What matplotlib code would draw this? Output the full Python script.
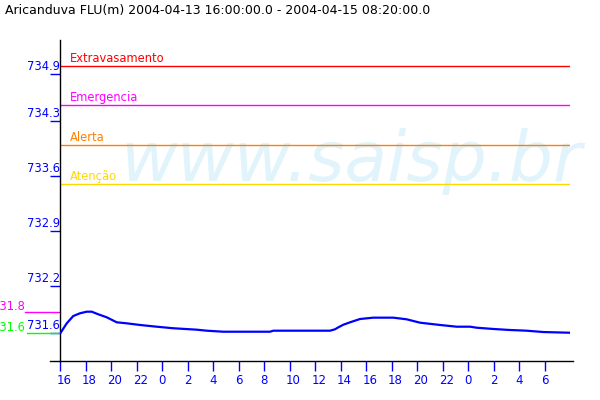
import matplotlib
matplotlib.use('Agg')
import matplotlib.pyplot as plt
from matplotlib import transforms

title = "Aricanduva FLU(m) 2004-04-13 16:00:00.0 - 2004-04-15 08:20:00.0"

# hours since 2004-04-13 16:00
hours = [0.05, 0.53, 1.04, 1.57, 2.09, 2.49, 3.0, 3.66, 4.45, 5.23, 6.27, 7.58,
         8.89, 10.72, 11.51, 12.81, 16.47, 16.73, 21.18, 21.57, 21.83, 22.22,
         22.75, 23.53, 24.57, 26.14, 27.19, 28.24, 29.80, 31.11, 32.16, 32.68,
         33.98, 35.29, 36.60, 37.91, 40.0]
level = [731.604, 731.724, 731.817, 731.852, 731.872, 731.872, 731.839, 731.801,
         731.737, 731.724, 731.703, 731.681, 731.661, 731.643, 731.630, 731.617,
         731.617, 731.630, 731.630, 731.648, 731.673, 731.706, 731.737, 731.779,
         731.796, 731.796, 731.775, 731.732, 731.703, 731.681, 731.681, 731.668,
         731.652, 731.639, 731.630, 731.613, 731.604]

x_tick_pos = list(range(0, 40, 2))
x_tick_labels = ['16', '18', '20', '22', '0', '2', '4', '6', '8', '10', '12', '14',
                 '16', '18', '20', '22', '0', '2', '4', '6']
y_tick_vals = [734.9, 734.3, 733.6, 732.9, 732.2, 731.6]
y_tick_labels = ['734.9', '734.3', '733.6', '732.9', '732.2', '731.6']

threshold_names = ['Extravasamento', 'Emergencia', 'Alerta', 'Atenção']
threshold_vals = [735.0, 734.5, 734.0, 733.5]
threshold_colors = ['#ff0000', '#ff00ff', '#ff8000', '#ffd800']

max_val, min_val = 731.87, 731.60
max_label, min_label = '731.8', '731.6'

FS = 8.3
BLUE = '#0000ff'

fig = plt.figure(figsize=(6, 4), dpi=100)
ax = fig.add_axes([60 / 600, 39 / 400, 510 / 600, 321 / 400])
ax.set_xlim(0, 40)
ax.set_ylim(731.244, 735.333)

for s in ['top', 'right', 'bottom']:
    ax.spines[s].set_visible(False)
ax.spines['left'].set_color('black')
ax.spines['left'].set_linewidth(1)
# x axis line extending slightly beyond the plot
ax.axhline(731.244, xmin=-10 / 510, xmax=513 / 510, color='black', lw=1, clip_on=False, zorder=5)

# watermark
ax.text(120 / 600, (400 - 181) / 400, 'www.saisp.br', transform=fig.transFigure,
        fontsize=50, style='italic', color='#e1f4fc', ha='left', va='baseline',
        zorder=0.5, clip_on=False)

# thresholds
px = fig.dpi_scale_trans
for name, val, col in zip(threshold_names, threshold_vals, threshold_colors):
    ax.axhline(val, color=col, lw=1, zorder=2)
    tr = transforms.blended_transform_factory(ax.transAxes, ax.transData) + \
        transforms.ScaledTranslation(10 / 100, 4 / 100, px)
    ax.text(0, val, name, transform=tr, color=col, fontsize=FS, ha='left', va='baseline')

# data line
ax.plot(hours, level, color=BLUE, lw=1.6, zorder=4, solid_joinstyle='miter')

# min / max markers
btr = transforms.blended_transform_factory(ax.transAxes, ax.transData)
ax.plot([-35 / 510, 0], [max_val, max_val], color='#ff00ff', lw=1, transform=btr, clip_on=False)
ax.plot([-33 / 510, 0], [min_val, min_val], color='#00ff00', lw=1, transform=btr, clip_on=False)
ax.text(-35 / 510, max_val, max_label, transform=btr + transforms.ScaledTranslation(0, 2 / 100, px),
        color='#ff00ff', fontsize=FS, ha='right', va='baseline')
ax.text(-35 / 510, min_val, min_label, transform=btr + transforms.ScaledTranslation(0, 2 / 100, px),
        color='#00ff00', fontsize=FS, ha='right', va='baseline')

# y ticks
ax.set_yticks(y_tick_vals)
ax.set_yticklabels([''] * len(y_tick_vals))
ax.tick_params(axis='y', direction='out', length=7.2, width=1, color=BLUE)
for v, lab in zip(y_tick_vals, y_tick_labels):
    ax.text(0, v, lab, transform=btr + transforms.ScaledTranslation(0, 1 / 100, px),
            color=BLUE, fontsize=FS, ha='right', va='bottom', clip_on=False)

# x ticks
ax.set_xticks(x_tick_pos)
ax.set_xticklabels(x_tick_labels)
ax.tick_params(axis='x', direction='out', length=7.2, width=1, color=BLUE,
               labelcolor=BLUE, labelsize=FS + 0.2, pad=2)
for lab in ax.get_xticklabels():
    lab.set_horizontalalignment('left')
    lab.set_transform(lab.get_transform() + transforms.ScaledTranslation(-3.5 / 100, 0, px))

fig.text(5 / 600, 1 - 4 / 400, title, fontsize=9, color='black', ha='left', va='top')

fig.savefig('out.png', dpi=100)
